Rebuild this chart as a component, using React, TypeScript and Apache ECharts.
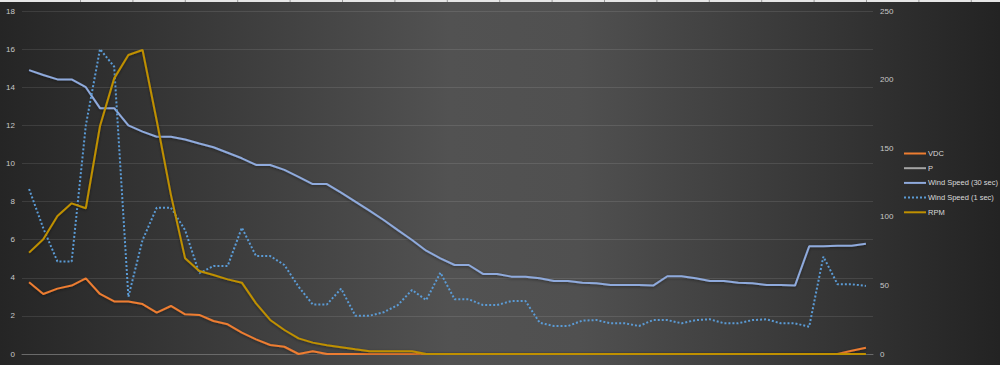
import React, { useEffect, useRef } from "react";
import * as echarts from "echarts";

const categories: string[] = Array.from({ length: 60 }, (_, i) => String(i + 1));

const vdc = [
  3.76, 3.15, 3.43, 3.59, 3.97, 3.15, 2.76, 2.76, 2.62, 2.17,
  2.52, 2.08, 2.05, 1.73, 1.56, 1.12, 0.77, 0.47, 0.38, 0,
  0.14, 0, 0, 0, 0, 0, 0, 0, 0, 0,
  0, 0, 0, 0, 0, 0, 0, 0, 0, 0,
  0, 0, 0, 0, 0, 0, 0, 0, 0, 0,
  0, 0, 0, 0, 0, 0, 0, 0, 0.17, 0.33,
];

const pPower = [
  0, 0, 0, 0, 0, 0, 0, 0, 0, 0,
  0, 0, 0, 0, 0, 0, 0, 0, 0, 0,
  0, 0, 0, 0, 0, 0, 0, 0, 0, 0,
  0, 0, 0, 0, 0, 0, 0, 0, 0, 0,
  0, 0, 0, 0, 0, 0, 0, 0, 0, 0,
  0, 0, 0, 0, 0, 0, 0, 0, 0, 0,
];

const wind30 = [
  14.9, 14.64, 14.41, 14.41, 14.0, 12.9, 12.9, 12.0, 11.67, 11.4,
  11.4, 11.26, 11.05, 10.85, 10.56, 10.27, 9.92, 9.92, 9.66, 9.3,
  8.92, 8.92, 8.47, 8.0, 7.52, 7.03, 6.5, 5.98, 5.42, 5.02,
  4.67, 4.67, 4.2, 4.2, 4.06, 4.06, 3.97, 3.83, 3.83, 3.74,
  3.71, 3.62, 3.62, 3.62, 3.59, 4.08, 4.08, 3.97, 3.83, 3.83,
  3.74, 3.71, 3.62, 3.62, 3.59, 5.65, 5.65, 5.68, 5.68, 5.79,
];

const wind1 = [
  8.66, 6.6, 4.85, 4.85, 12.0, 16.0, 15.08, 3.0, 5.98, 7.68,
  7.68, 6.5, 4.23, 4.62, 4.62, 6.63, 5.14, 5.14, 4.67, 3.53,
  2.6, 2.6, 3.43, 2.01, 2.01, 2.19, 2.57, 3.36, 2.83, 4.27,
  2.87, 2.87, 2.57, 2.57, 2.78, 2.78, 1.64, 1.47, 1.47, 1.75,
  1.78, 1.61, 1.61, 1.47, 1.78, 1.78, 1.61, 1.78, 1.82, 1.61,
  1.61, 1.78, 1.82, 1.61, 1.61, 1.43, 5.11, 3.66, 3.66, 3.57,
];

const rpm = [
  73.9, 83.6, 100.6, 109.8, 106.2, 166.2, 200.9, 217.9, 221.6, 170,
  116, 69.7, 60.5, 57.6, 54.4, 52.0, 36.9, 24.8, 17.5, 11.4,
  8.3, 6.3, 4.9, 3.4, 2.0, 2.0, 2.0, 2.0, 0, 0,
  0, 0, 0, 0, 0, 0, 0, 0, 0, 0,
  0, 0, 0, 0, 0, 0, 0, 0, 0, 0,
  0, 0, 0, 0, 0, 0, 0, 0, 0, 0,
];

const seriesNames = ["VDC", "P", "Wind Speed (30 sec)", "Wind Speed (1 sec)", "RPM"];

export default function App() {
  const ref = useRef<HTMLDivElement>(null);

  useEffect(() => {
    if (!ref.current) return;
    const chart = echarts.init(ref.current, undefined, { renderer: "svg" });

    const shadow = {
      shadowColor: "rgba(0,0,0,0.45)",
      shadowBlur: 3,
      shadowOffsetY: 1,
    };

    const colLines: any[] = [];
    for (let k = 0; k < 18; k++) {
      colLines.push({
        type: "rect",
        shape: { x: 80 + 52.4 * k, y: 0, width: 1, height: 2 },
        style: { fill: "#9a9a9a" },
        z: 101,
      });
    }

    chart.setOption({
      animation: false,
      backgroundColor: new echarts.graphic.LinearGradient(0, 0, 1, 0, [
        { offset: 0, color: "#252525" },
        { offset: 0.45, color: "#525252" },
        { offset: 0.58, color: "#505050" },
        { offset: 1, color: "#232323" },
      ]),
      textStyle: { fontFamily: "Liberation Sans, Arial, sans-serif" },
      graphic: [
        {
          type: "rect",
          shape: { x: 0, y: 0, width: 1000, height: 2 },
          style: { fill: "#e6e6e6" },
          z: 100,
        },
        ...colLines,
      ],
      grid: { left: 22, right: 127, top: 11, bottom: 11, containLabel: false },
      legend: {
        orient: "vertical",
        left: 903,
        top: 149.5,
        padding: 0,
        itemWidth: 22,
        itemHeight: 8,
        itemGap: 6.7,
        itemStyle: { opacity: 0 },
        textStyle: { color: "#d9d9d9", fontSize: 7.5, padding: [0, 0, 0, -3] },
        data: seriesNames,
      },
      xAxis: {
        type: "category",
        data: categories,
        boundaryGap: true,
        axisLabel: { show: false },
        axisTick: { show: false },
        axisLine: { show: true, lineStyle: { color: "#6a6a6a", width: 1 } },
        splitLine: { show: false },
      },
      yAxis: [
        {
          type: "value",
          min: 0,
          max: 18,
          interval: 2,
          axisLabel: { color: "#c8c8c8", fontSize: 8, margin: 7 },
          axisLine: { show: false },
          axisTick: { show: false },
          splitLine: { show: true, lineStyle: { color: "rgba(255,255,255,0.1)", width: 1 } },
        },
        {
          type: "value",
          min: 0,
          max: 250,
          interval: 50,
          position: "right",
          axisLabel: { color: "#c8c8c8", fontSize: 8, margin: 7 },
          axisLine: { show: false },
          axisTick: { show: false },
          splitLine: { show: false },
        },
      ],
      series: [
        {
          name: "VDC",
          type: "line",
          data: vdc,
          yAxisIndex: 0,
          symbol: "none",
          lineStyle: { color: "#ED7D31", width: 2, ...shadow },
          itemStyle: { color: "#ED7D31" },
        },
        {
          name: "P",
          type: "line",
          data: pPower,
          yAxisIndex: 0,
          symbol: "none",
          lineStyle: { color: "#A5A5A5", width: 2, ...shadow },
          itemStyle: { color: "#A5A5A5" },
        },
        {
          name: "Wind Speed (30 sec)",
          type: "line",
          data: wind30,
          yAxisIndex: 0,
          symbol: "none",
          lineStyle: { color: "#8FAADC", width: 2, ...shadow },
          itemStyle: { color: "#8FAADC" },
        },
        {
          name: "Wind Speed (1 sec)",
          type: "line",
          data: wind1,
          yAxisIndex: 0,
          symbol: "none",
          lineStyle: { color: "#5B9BD5", width: 2, type: [2, 2] },
          itemStyle: { color: "#5B9BD5" },
        },
        {
          name: "RPM",
          type: "line",
          data: rpm,
          yAxisIndex: 1,
          symbol: "none",
          lineStyle: { color: "#BF9000", width: 2, ...shadow },
          itemStyle: { color: "#BF9000" },
        },
      ],
    });

    return () => chart.dispose();
  }, []);

  return (
    <div
      ref={ref}
      style={{ position: "fixed", left: 0, top: 0, width: 1000, height: 365 }}
    />
  );
}
